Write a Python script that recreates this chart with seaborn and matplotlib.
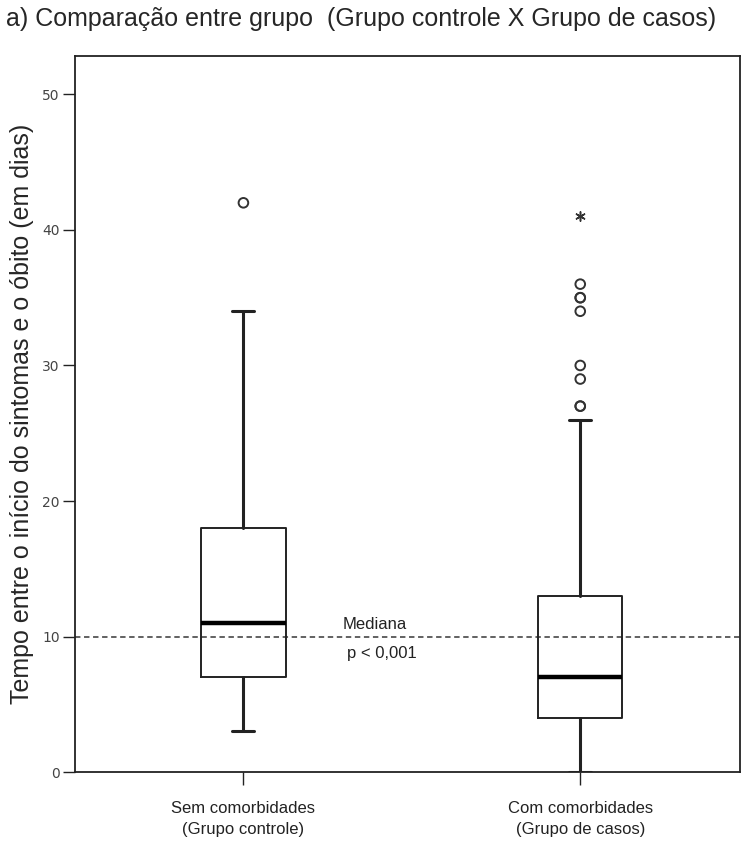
import matplotlib
matplotlib.use("Agg")
import matplotlib.pyplot as plt
import seaborn as sns

# Data
groups = ["Sem comorbidades\n(Grupo controle)", "Com comorbidades\n(Grupo de casos)"]
whisker_low = [3, 0]
q1 = [7, 4]
median = [11, 7]
q3 = [18, 13]
whisker_high = [34, 26]
outliers = [[42], [27, 27, 29, 30, 34, 35, 35, 36]]
extremes = [[], [41]]
ref_median = 10

sns.set_theme(style="ticks")
plt.rcParams["font.family"] = ["Liberation Sans Narrow", "Liberation Sans", "DejaVu Sans"]

fig, ax = plt.subplots(figsize=(7.5, 8.42), dpi=100)
fig.subplots_adjust(left=0.1, right=0.987, top=0.933, bottom=0.083)

stats = [
    dict(whislo=whisker_low[i], q1=q1[i], med=median[i], q3=q3[i],
         whishi=whisker_high[i], fliers=[], label=groups[i])
    for i in range(len(groups))
]
ax.bxp(
    stats, positions=range(len(groups)), widths=0.25, showfliers=False,
    boxprops=dict(color="#222222", linewidth=1.4),
    medianprops=dict(color="black", linewidth=3.2),
    whiskerprops=dict(color="#222222", linewidth=2.2),
    capprops=dict(color="#222222", linewidth=2.2),
    capwidths=0.065,
)

flier_x = [i for i, vals in enumerate(outliers) for _ in vals]
flier_y = [v for vals in outliers for v in vals]
sns.scatterplot(x=flier_x, y=flier_y, ax=ax, marker="o", s=48,
                facecolor="none", edgecolor="#333333", linewidth=1.4)
ext_x = [i for i, vals in enumerate(extremes) for _ in vals]
ext_y = [v for vals in extremes for v in vals]
sns.scatterplot(x=ext_x, y=ext_y, ax=ax, marker=(6, 2, 0), s=45,
                color="#333333", linewidth=1.1)

ax.axhline(ref_median, color="#555555", linestyle=(0, (3, 2)), linewidth=1.3, zorder=0)
ax.text(0.39, ref_median + 0.3, "Mediana", ha="center", va="bottom",
        fontsize=12, family=["Liberation Sans", "DejaVu Sans"], color="#222222")
ax.text(0.41, ref_median - 0.7, "p < 0,001", ha="center", va="top",
        fontsize=12, family=["Liberation Sans", "DejaVu Sans"], color="#222222")

ax.set_xlim(-0.5, 1.475)
ax.set_ylim(0, 52.8)
ax.set_yticks([0, 10, 20, 30, 40, 50])
ax.set_xticks(range(len(groups)))
ax.set_xticklabels(groups, fontsize=12, linespacing=1.45,
                   family=["Liberation Sans", "DejaVu Sans"])
ax.tick_params(axis="both", direction="out", length=9, width=1, colors="#222222", pad=2)
ax.tick_params(axis="y", labelcolor="#444444", labelsize=10, labelfontfamily="DejaVu Sans")
ax.tick_params(axis="x", pad=12)
for sp in ax.spines.values():
    sp.set_visible(True)
    sp.set_color("#222222")
    sp.set_linewidth(1.3)

ax.set_ylabel("Tempo entre o início do sintomas e o óbito (em dias)", fontsize=18, labelpad=6)
fig.text(0.008, 0.978, "a) Comparação entre grupo  (Grupo controle X Grupo de casos)",
         fontsize=18, ha="left", va="center")

fig.savefig("out.png", dpi=100)
